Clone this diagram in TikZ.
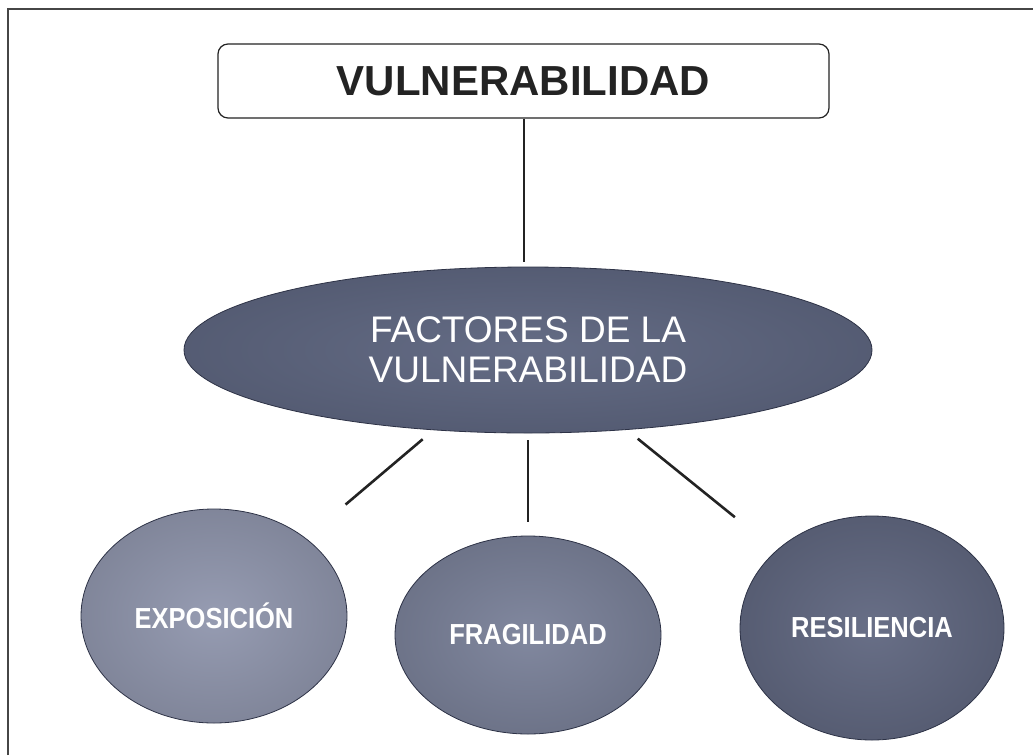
\documentclass[tikz,border=0pt]{standalone}
\usepackage{fontspec}
\setmainfont{Liberation Sans}
\newfontfamily\estrecha[FakeStretch=0.88]{Liberation Sans}
\usetikzlibrary{shapes.geometric}
\definecolor{marco}{RGB}{70,70,70}
\definecolor{tinta}{RGB}{35,35,35}
\definecolor{borde}{RGB}{45,50,70}
\definecolor{factcol}{RGB}{94,102,128}
\definecolor{expocol}{RGB}{146,152,175}
\definecolor{fragcol}{RGB}{124,131,155}
\definecolor{resicol}{RGB}{98,105,130}
\begin{document}
\begin{tikzpicture}[x=1pt, y=-1pt,
	factor/.style={ellipse, draw=borde, line width=0.8pt, inner sep=0pt, text=white, font=\estrecha\bfseries\fontsize{29}{31}\selectfont},
	link/.style={line width=2.6pt, draw=tinta}]
	\useasboundingbox (0,0) rectangle (1033,755);
	\draw[line width=1.3pt, marco] (8,755) -- (8,9) -- (1033,9);
	\node[draw=tinta, line width=1.2pt, rounded corners=10pt, minimum width=611pt, minimum height=74pt, text=tinta, font=\bfseries\fontsize{42}{46}\selectfont] (titulo) at (523.5,81) {VULNERABILIDAD};
	\node[ellipse, draw=borde, line width=0.8pt, inner color=factcol!96!white, outer color=factcol!90!black, inner sep=0pt, minimum width=688pt, minimum height=166pt, align=center, text=white, font=\fontsize{37}{40}\selectfont] (factores) at (528,350) {FACTORES DE LA\\VULNERABILIDAD};
	\node[factor, inner color=expocol!96!white, outer color=expocol!88!black, minimum width=266pt, minimum height=214pt] (expo) at (214,616) {EXPOSICIÓN};
	\node[factor, inner color=fragcol!96!white, outer color=fragcol!88!black, minimum width=266pt, minimum height=198pt] (frag) at (528,635) {FRAGILIDAD};
	\node[factor, inner color=resicol!96!white, outer color=resicol!88!black, minimum width=264pt, minimum height=224pt] (resi) at (872,628) {RESILIENCIA};
	% conectores
	\draw[line width=2pt, tinta, shorten >=5pt] (titulo.south) -- (titulo.south |- factores.north);
	\draw[link, shorten <=14pt, shorten >=52pt] (factores) -- (expo);
	\draw[link, shorten <=7pt, shorten >=14pt] (factores) -- (frag);
	\draw[link, shorten <=14pt, shorten >=53pt] (factores) -- (resi);
\end{tikzpicture}
\end{document}
